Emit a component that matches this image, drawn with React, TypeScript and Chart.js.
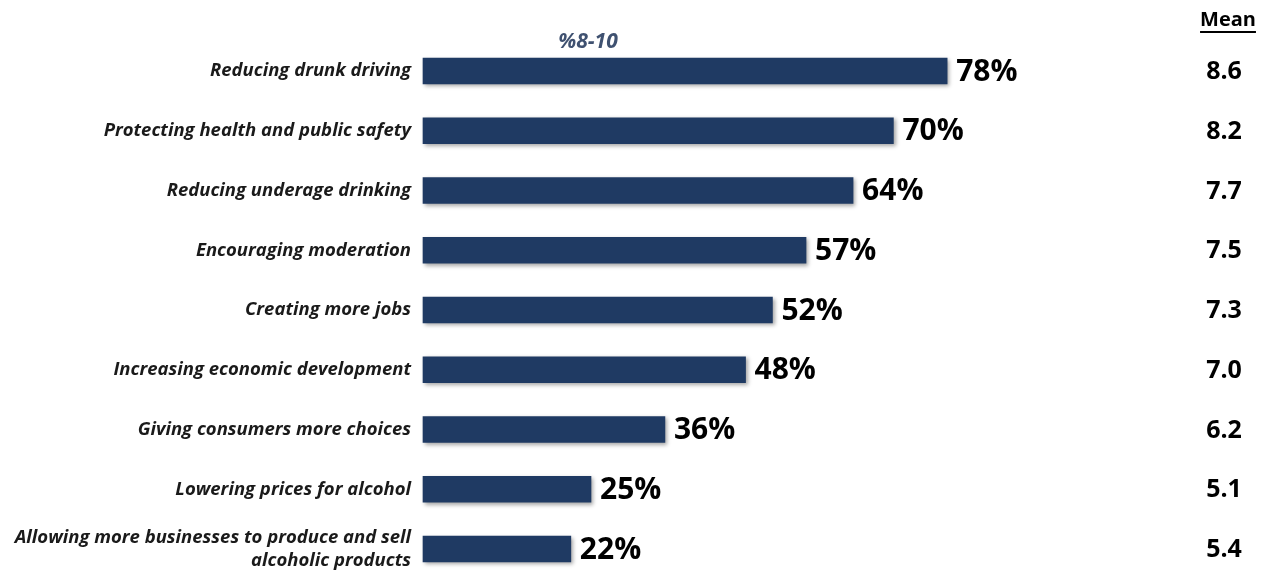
import React, { useEffect, useRef } from "react";
import { Chart, registerables } from "chart.js";

Chart.register(...registerables);

const categories: (string | string[])[] = [
  "Reducing drunk driving",
  "Protecting health and public safety",
  "Reducing underage drinking",
  "Encouraging moderation",
  "Creating more jobs",
  "Increasing economic development",
  "Giving consumers more choices",
  "Lowering prices for alcohol",
  ["Allowing more businesses to produce and sell", "alcoholic products"],
];
const topBoxPct = [78, 70, 64, 57, 52, 48, 36, 25, 22];
const meanScores = ["8.6", "8.2", "7.7", "7.5", "7.3", "7.0", "6.2", "5.1", "5.4"];
const seriesLabel = "%8-10";
const meanHeader = "Mean";

const BAR_COLOR = "#1F3A63";
const FONT = "'Open Sans', sans-serif";

const shadowPlugin = {
  id: "barShadow",
  beforeDatasetDraw(chart: any) {
    const ctx = chart.ctx;
    ctx.save();
    ctx.shadowColor = "rgba(0,0,0,0.35)";
    ctx.shadowBlur = 4;
    ctx.shadowOffsetX = 2;
    ctx.shadowOffsetY = 2;
  },
  afterDatasetDraw(chart: any) {
    chart.ctx.restore();
  },
};

const annotatePlugin = {
  id: "annotate",
  afterDraw(chart: any) {
    const ctx = chart.ctx;
    const meta = chart.getDatasetMeta(0);
    const xs = chart.scales.x;
    const area = chart.chartArea;
    const meanX = area.right + 129;
    ctx.save();
    ctx.textBaseline = "middle";
    meta.data.forEach((bar: any, i: number) => {
      ctx.fillStyle = "#000";
      ctx.font = `bold 30px ${FONT}`;
      ctx.textAlign = "left";
      ctx.fillText(`${topBoxPct[i]}%`, bar.x + 9, bar.y + 1);
      ctx.font = `bold 25px ${FONT}`;
      ctx.textAlign = "center";
      ctx.fillText(meanScores[i], meanX, bar.y + 1);
    });
    // header over bars
    ctx.font = `italic bold 21px ${FONT}`;
    ctx.fillStyle = "#3F5170";
    ctx.textAlign = "center";
    ctx.fillText(seriesLabel, xs.getPixelForValue(25) - 3, 42);
    // Mean header
    ctx.font = `bold 20px ${FONT}`;
    ctx.fillStyle = "#000";
    ctx.fillText(meanHeader, meanX + 4, 20);
    const w = ctx.measureText(meanHeader).width;
    ctx.fillRect(meanX + 4 - w / 2, 31, w, 2);
    ctx.restore();
  },
};

export default function App() {
  const ref = useRef<HTMLCanvasElement>(null);
  useEffect(() => {
    if (!ref.current) return;
    const chart = new Chart(ref.current, {
      type: "bar",
      data: {
        labels: categories,
        datasets: [
          {
            label: seriesLabel,
            data: topBoxPct,
            backgroundColor: BAR_COLOR,
            borderWidth: 0,
            barThickness: 26,
            clip: false,
          },
        ],
      },
      options: {
        indexAxis: "y",
        animation: false,
        responsive: false,
        layout: { padding: { top: 71, right: 182, bottom: 26, left: 0 } },
        plugins: { legend: { display: false }, tooltip: { enabled: false } },
        scales: {
          x: { display: false, min: 0, max: 100 },
          y: {
            offset: false,
            grid: { display: false, drawTicks: false },
            border: { display: false },
            afterFit(scale: any) {
              scale.width = 423;
              scale.paddingTop = 0;
              scale.paddingBottom = 0;
            },
            ticks: {
              padding: 12,
              color: "#1a1a1a",
              font: { family: FONT, size: 18.5, style: "italic", weight: "bold", lineHeight: 1.25 },
            },
          },
        },
      },
      plugins: [shadowPlugin, annotatePlugin],
    });
    return () => chart.destroy();
  }, []);
  return (
    <div style={{ width: 1277, height: 575 }}>
      <style>{`body{margin:0;}`}</style>
      <canvas ref={ref} width={1277} height={575} />
    </div>
  );
}
